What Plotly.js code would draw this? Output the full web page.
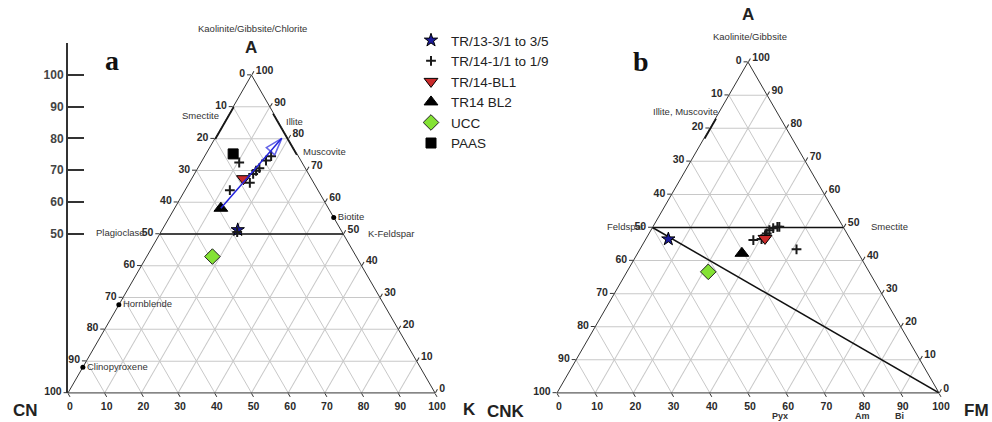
<!DOCTYPE html>
<html>
<head>
<meta charset="utf-8">
<script src="https://cdn.plot.ly/plotly-3.0.1.min.js"></script>
<style>html,body{margin:0;padding:0;background:#fff;}#chart{width:992px;height:422px;}</style>
</head>
<body>
<div id="chart"></div>
<script>
// ---------- data ----------
// Panel a: A - CN - K
const tickVals = [0,10,20,30,40,50,60,70,80,90,100];
const tickTextRev = ['100','90','80','70','60','50','40','30','20','10','0'];

const aTR13_A = [51.3], aTR13_CN = [28.1], aTR13_K = [20.6];
const aTR14_A  = [72.5, 74.5, 73.1, 70.7, 69.9, 68.9, 66.1, 63.8, 50.6];
const aTR14_CN = [17.1,  7.4,  9.5, 12.5, 13.8, 15.1, 17.4, 24.0, 28.6];
const aTR14_K  = [10.4, 18.1, 17.4, 16.8, 16.3, 16.0, 16.5, 12.2, 20.8];
const aBL1_A = [67.4], aBL1_CN = [18.5], aBL1_K = [14.1];
const aBL2_A = [58.1], aBL2_CN = [29.3], aBL2_K = [12.6];
const aUCC_A = [42.9], aUCC_CN = [39.2], aUCC_K = [17.9];
const aPAAS_A = [75.2], aPAAS_CN = [17.4], aPAAS_K = [7.4];
const aArrow_A = [58.1, 80.1], aArrow_CN = [29.3, 1.7], aArrow_K = [12.6, 18.2];

const minNames = ['Biotite', 'Hornblende', 'Clinopyroxene'];
const min_A  = [55.2, 27.7, 8.1];
const min_CN = [0, 72.3, 91.9];
const min_K  = [44.8, 0, 0];

const aLine50_A = [50, 50], aLine50_CN = [50, 0], aLine50_K = [0, 50];
const smectSeg_A = [90, 80], smectSeg_CN = [10, 20], smectSeg_K = [0, 0];
const illSeg_A = [88, 75], illSeg_CN = [0, 0], illSeg_K = [12, 25];

// Panel b: A - CNK - FM
const bTR13_A = [46.5], bTR13_CNK = [47.6], bTR13_FM = [5.9];
const bTR14_A   = [46.2, 46.5, 48.2, 49.2, 49.8, 50.2, 50.2, 43.4, 47.5];
const bTR14_CNK = [25.5, 23.2, 21.0, 19.8, 18.5, 17.2, 16.7, 15.6, 21.8];
const bTR14_FM  = [28.3, 30.3, 30.8, 31.0, 31.7, 32.6, 33.1, 41.0, 30.7];
const bBL1_A = [46.7], bBL1_CNK = [22.2], bBL1_FM = [31.1];
const bBL2_A = [42.2], bBL2_CNK = [30.5], bBL2_FM = [27.3];
const bUCC_A = [36.6], bUCC_CNK = [42.1], bUCC_FM = [21.3];

const bLine50_A = [50, 50], bLine50_CNK = [50, 0], bLine50_FM = [0, 50];
const bDiag_A = [50, 0], bDiag_CNK = [50, 0], bDiag_FM = [0, 100];
const bIllSeg_A = [83, 77], bIllSeg_CNK = [17, 23], bIllSeg_FM = [0, 0];

const ciaTicks = [50, 60, 70, 80, 90, 100];

const legendNames = ['TR/13-3/1 to 3/5', 'TR/14-1/1 to 1/9', 'TR/14-BL1', 'TR14 BL2', 'UCC', 'PAAS'];

// ---------- styles ----------
const F = 'Liberation Sans, Arial, sans-serif';
const sty = {
  star:  {symbol:'star', size:10, color:'#1c1c9c', line:{color:'#000', width:1}},
  cross: {symbol:'cross-thin', size:7, color:'#111', line:{color:'#1a1a1a', width:2}},
  bl1:   {symbol:'triangle-down', size:12, color:'#c92a2a', line:{color:'#000', width:1}},
  bl2:   {symbol:'triangle-up', size:12, color:'#000', line:{color:'#000', width:1}},
  ucc:   {symbol:'diamond', size:12, color:'#84e234', line:{color:'#222', width:1}},
  paas:  {symbol:'square', size:10, color:'#000', line:{color:'#000', width:1}}
};

function pt(sub, a, b, c, name, marker, show) {
  return {type:'scatterternary', subplot:sub, mode:'markers', a:a, b:b, c:c, name:name,
          marker:marker, showlegend:!!show, hoverinfo:'skip', cliponaxis:false};
}
function ln(sub, a, b, c, w, color) {
  return {type:'scatterternary', subplot:sub, mode:'lines', a:a, b:b, c:c,
          line:{color:color||'#111', width:w}, showlegend:false, hoverinfo:'skip', cliponaxis:false};
}

const traces = [
  pt('ternary', aTR13_A, aTR13_CN, aTR13_K, legendNames[0], sty.star, true),
  pt('ternary', aTR14_A, aTR14_CN, aTR14_K, legendNames[1], sty.cross, true),
  pt('ternary', aBL1_A, aBL1_CN, aBL1_K, legendNames[2], sty.bl1, true),
  pt('ternary', aBL2_A, aBL2_CN, aBL2_K, legendNames[3], sty.bl2, true),
  pt('ternary', aUCC_A, aUCC_CN, aUCC_K, legendNames[4], sty.ucc, true),
  pt('ternary', aPAAS_A, aPAAS_CN, aPAAS_K, legendNames[5], sty.paas, true),
];
const under = [
  ln('ternary', aLine50_A, aLine50_CN, aLine50_K, 1.5),
  ln('ternary', smectSeg_A, smectSeg_CN, smectSeg_K, 3),
  ln('ternary', illSeg_A, illSeg_CN, illSeg_K, 3),
  ln('ternary2', bLine50_A, bLine50_CNK, bLine50_FM, 1.5),
  ln('ternary2', bDiag_A, bDiag_CNK, bDiag_FM, 1.5),
  ln('ternary2', bIllSeg_A, bIllSeg_CNK, bIllSeg_FM, 3),
  {type:'scatter', x:[], y:[], xaxis:'x', yaxis:'y', showlegend:false, hoverinfo:'skip'}
];
const over = [
  {type:'scatterternary', subplot:'ternary', mode:'lines+markers', a:aArrow_A, b:aArrow_CN, c:aArrow_K,
   line:{color:'#2222dd', width:1.5},
   marker:{symbol:['circle', 'arrow-open'], size:[0, 18], angle:[0, 41], color:'#2222dd', line:{color:'#2222dd', width:1.5}},
   showlegend:false, hoverinfo:'skip', cliponaxis:false},
  {type:'scatterternary', subplot:'ternary', mode:'markers+text', a:min_A, b:min_CN, c:min_K,
   text:minNames, textposition:'middle right', textfont:{family:F, size:9.5, color:'#333'},
   marker:{symbol:'circle', size:5, color:'#000'}, showlegend:false, hoverinfo:'skip', cliponaxis:false},
  pt('ternary2', bTR14_A, bTR14_CNK, bTR14_FM, legendNames[1], sty.cross, false),
  pt('ternary2', bTR13_A, bTR13_CNK, bTR13_FM, legendNames[0], sty.star, false),
  pt('ternary2', bBL1_A, bBL1_CNK, bBL1_FM, legendNames[2], sty.bl1, false),
  pt('ternary2', bBL2_A, bBL2_CNK, bBL2_FM, legendNames[3], sty.bl2, false),
  pt('ternary2', bUCC_A, bUCC_CNK, bUCC_FM, legendNames[4], sty.ucc, false),
];
const data = under.concat(traces, over);

function axisCfg() {
  return {min:0, tickmode:'array', tickvals:tickVals, ticktext:tickTextRev,
    ticks:'outside', ticklen:4, tickcolor:'#333', tickwidth:1,
    showline:true, linecolor:'#333', linewidth:1,
    showgrid:true, gridcolor:'#c8c8c8', gridwidth:1,
    tickfont:{family:F, size:10.5, color:'#2a2a2a', weight:'bold'},
    title:{text:''}, layer:'below traces'};
}

const W = 992, H = 422;
const px = x => x / W, py = y => 1 - y / H;

function ann(text, x, y, size, opts) {
  return Object.assign({text:text, x:px(x), y:py(y), xref:'paper', yref:'paper', showarrow:false,
    xanchor:'center', yanchor:'middle', font:{family:F, size:size, color:'#222'}}, opts || {});
}
const lab = {family:F, size:9.5, color:'#333'};
const big = {family:F, size:17, color:'#222', weight:'bold'};
const ser = {family:'Liberation Serif, serif', size:28, color:'#111', weight:'bold'};
const small = {family:F, size:9, color:'#333', weight:'bold'};

const annotations = [
  ann('Kaolinite/Gibbsite/Chlorite', 252, 28, 9.5, {font:lab}),
  ann('A', 251, 48, 17, {font:big}),
  ann('a', 112, 60, 28, {font:ser}),
  ann('CN', 25, 410, 17, {font:big}),
  ann('K', 469, 409, 17, {font:big}),
  ann('Smectite', 221, 116, 9.5, {xanchor:'right', font:lab}),
  ann('Illite', 284, 121, 9.5, {xanchor:'left', font:lab}),
  ann('Muscovite', 301, 151, 9.5, {xanchor:'left', font:lab}),
  ann('Plagioclase', 147, 232, 9.5, {xanchor:'right', font:lab}),
  ann('K-Feldspar', 366, 233, 9.5, {xanchor:'left', font:lab}),

  ann('A', 748, 14, 17, {font:big}),
  ann('Kaolinite/Gibbsite', 750, 37, 9.5, {font:lab}),
  ann('b', 641, 62, 28, {font:ser}),
  ann('Illite, Muscovite', 720, 111, 9.5, {xanchor:'right', font:lab}),
  ann('Feldspar', 646, 227, 9.5, {xanchor:'right', font:lab}),
  ann('Smectite', 869, 227, 9.5, {xanchor:'left', font:lab}),
  ann('CNK', 506, 411, 17, {font:big}),
  ann('FM', 991, 410, 17, {xanchor:'right', font:big}),
  ann('Pyx', 780, 416, 9, {font:small}),
  ann('Am', 862, 416, 9, {font:small}),
  ann('Bi', 899, 416, 9, {font:small})
];

const layout = {
  width: W, height: H,
  margin: {l:0, r:0, t:0, b:0},
  paper_bgcolor: '#fff',
  font: {family:F, color:'#222'},
  showlegend: true,
  legend: {x: px(411), y: py(25), xanchor:'left', yanchor:'top', bgcolor:'rgba(0,0,0,0)',
           font:{family:F, size:13.5, color:'#222'}, itemsizing:'trace', tracegroupgap:0},
  ternary: {sum:100, domain:{x:[px(68), px(435)], y:[py(393), py(75)]}, bgcolor:'#fff',
            aaxis:axisCfg(), baxis:axisCfg(), caxis:axisCfg()},
  ternary2: {sum:100, domain:{x:[px(557), px(939)], y:[py(393), py(62)]}, bgcolor:'#fff',
             aaxis:axisCfg(), baxis:axisCfg(), caxis:axisCfg()},
  xaxis: {domain:[px(68), px(100)], range:[0, 1], visible:false, fixedrange:true},
  yaxis: {domain:[py(393), py(43)], range:[0, 110], anchor:'x', showline:true, linewidth:2, linecolor:'#333',
          ticks:'inside', ticklen:16, tickwidth:2, tickcolor:'#333', tickmode:'array', tickvals:ciaTicks,
          showgrid:false, zeroline:false, tickfont:{family:F, size:12, color:'#444', weight:'bold'}, fixedrange:true},
  annotations: annotations
};

Plotly.newPlot('chart', data, layout, {displayModeBar:false, staticPlot:true});
</script>
</body>
</html>
